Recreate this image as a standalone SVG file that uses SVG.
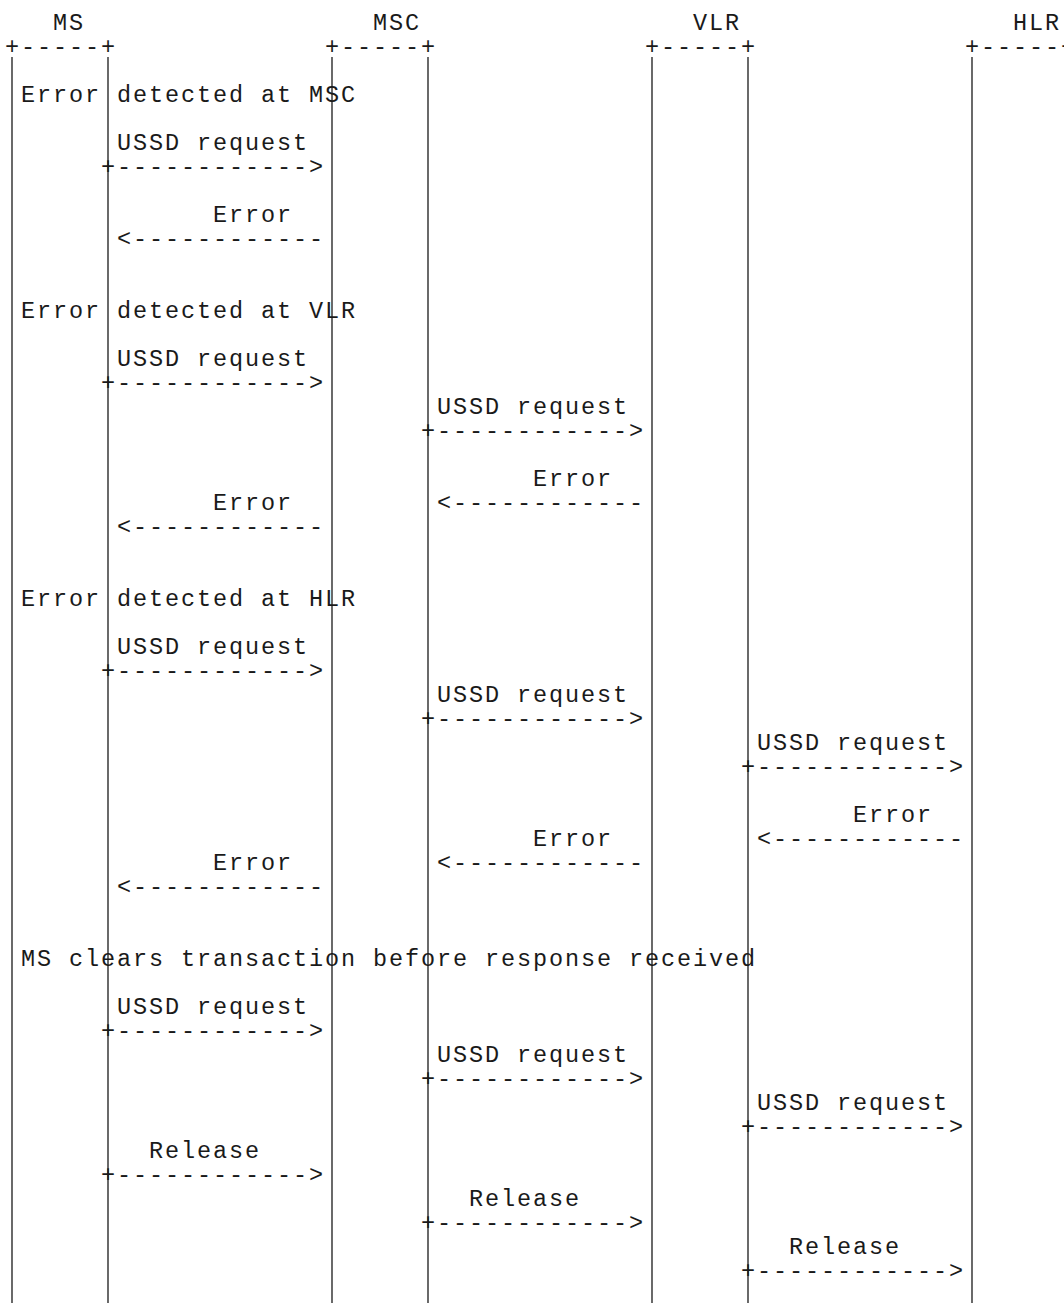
<svg xmlns="http://www.w3.org/2000/svg" width="1064" height="1303" viewBox="0 0 1064 1303">
<style>
text{font-family:"Liberation Mono","DejaVu Sans Mono",monospace;font-size:23.5px;letter-spacing:1.9px;fill:#1a1a1a;white-space:pre}
.life{stroke:#1a1a1a;stroke-width:1.3;fill:none}
</style>
<rect width="1064" height="1303" fill="#ffffff"/>
<g id="node-MS">
<text x="53" y="29.5">MS</text>
<text x="5" y="53.5">+-----+</text>
</g>
<g id="node-MSC">
<text x="373" y="29.5">MSC</text>
<text x="325" y="53.5">+-----+</text>
</g>
<g id="node-VLR">
<text x="693" y="29.5">VLR</text>
<text x="645" y="53.5">+-----+</text>
</g>
<g id="node-HLR">
<text x="1013" y="29.5">HLR</text>
<text x="965" y="53.5">+-----+</text>
</g>
<g id="lifelines">
<line class="life" x1="12" y1="57" x2="12" y2="1303"/>
<line class="life" x1="108" y1="57" x2="108" y2="1303"/>
<line class="life" x1="332" y1="57" x2="332" y2="1303"/>
<line class="life" x1="428" y1="57" x2="428" y2="1303"/>
<line class="life" x1="652" y1="57" x2="652" y2="1303"/>
<line class="life" x1="748" y1="57" x2="748" y2="1303"/>
<line class="life" x1="972" y1="57" x2="972" y2="1303"/>
<line class="life" x1="1068" y1="57" x2="1068" y2="1303"/>
</g>
<g id="section-titles">
<text x="21" y="101.5">Error detected at MSC</text>
<text x="21" y="317.5">Error detected at VLR</text>
<text x="21" y="605.5">Error detected at HLR</text>
<text x="21" y="965.5">MS clears transaction before response received</text>
</g>
<g id="connectors">
<!-- section 1 -->
<text x="117" y="149.5">USSD request</text>
<text x="101" y="173.5">+------------&gt;</text>
<text x="213" y="221.5">Error</text>
<text x="117" y="245.5">&lt;------------</text>
<!-- section 2 -->
<text x="117" y="365.5">USSD request</text>
<text x="101" y="389.5">+------------&gt;</text>
<text x="437" y="413.5">USSD request</text>
<text x="421" y="437.5">+------------&gt;</text>
<text x="533" y="485.5">Error</text>
<text x="213" y="509.5">Error</text>
<text x="437" y="509.5">&lt;------------</text>
<text x="117" y="533.5">&lt;------------</text>
<!-- section 3 -->
<text x="117" y="653.5">USSD request</text>
<text x="101" y="677.5">+------------&gt;</text>
<text x="437" y="701.5">USSD request</text>
<text x="421" y="725.5">+------------&gt;</text>
<text x="757" y="749.5">USSD request</text>
<text x="741" y="773.5">+------------&gt;</text>
<text x="853" y="821.5">Error</text>
<text x="533" y="845.5">Error</text>
<text x="757" y="845.5">&lt;------------</text>
<text x="213" y="869.5">Error</text>
<text x="437" y="869.5">&lt;------------</text>
<text x="117" y="893.5">&lt;------------</text>
<!-- section 4 -->
<text x="117" y="1013.5">USSD request</text>
<text x="101" y="1037.5">+------------&gt;</text>
<text x="437" y="1061.5">USSD request</text>
<text x="421" y="1085.5">+------------&gt;</text>
<text x="757" y="1109.5">USSD request</text>
<text x="741" y="1133.5">+------------&gt;</text>
<text x="149" y="1157.5">Release</text>
<text x="101" y="1181.5">+------------&gt;</text>
<text x="469" y="1205.5">Release</text>
<text x="421" y="1229.5">+------------&gt;</text>
<text x="789" y="1253.5">Release</text>
<text x="741" y="1277.5">+------------&gt;</text>
</g>
</svg>
